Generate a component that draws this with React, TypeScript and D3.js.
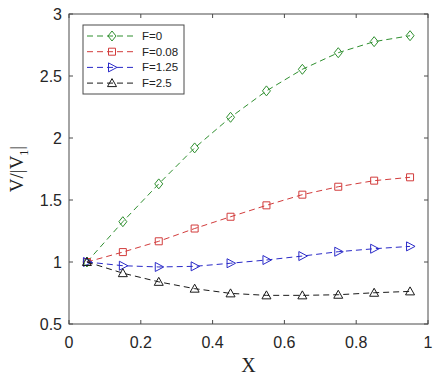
import React from "react";
import * as d3 from "d3";

const xValues = [0.05, 0.15, 0.25, 0.35, 0.45, 0.55, 0.65, 0.75, 0.85, 0.95];
const seriesF0 = [1.0, 1.325, 1.63, 1.92, 2.167, 2.38, 2.554, 2.688, 2.777, 2.825];
const seriesF008 = [1.0, 1.08, 1.167, 1.27, 1.365, 1.457, 1.543, 1.607, 1.656, 1.683];
const seriesF125 = [1.0, 0.97, 0.96, 0.965, 0.99, 1.016, 1.048, 1.083, 1.107, 1.126];
const seriesF25 = [1.0, 0.91, 0.84, 0.785, 0.747, 0.731, 0.731, 0.736, 0.752, 0.763];
const seriesNames = ["F=0", "F=0.08", "F=1.25", "F=2.5"];
const seriesColors = ["#2f8f2f", "#d23c3c", "#2a2ac8", "#1a1a1a"];
const seriesMarkers = ["diamond", "square", "triangleRight", "triangleUp"];
const xTicks = [0, 0.2, 0.4, 0.6, 0.8, 1];
const yTicks = [0.5, 1, 1.5, 2, 2.5, 3];

const L = 69, R = 428, T = 14, B = 324;

function Marker({ type, x, y, color }: { type: string; x: number; y: number; color: string }) {
  const s = 4;
  let d = "";
  if (type === "diamond") d = `M${x},${y - s - 1}L${x + s},${y}L${x},${y + s + 1}L${x - s},${y}Z`;
  else if (type === "square") d = `M${x - 3.5},${y - 3.5}h7v7h-7Z`;
  else if (type === "triangleRight") d = `M${x - 3.5},${y - 4.5}L${x + 5},${y}L${x - 3.5},${y + 4.5}Z`;
  else d = `M${x},${y - 4.5}L${x + 4.5},${y + 3.5}L${x - 4.5},${y + 3.5}Z`;
  return <path d={d} fill="none" stroke={color} strokeWidth={1} />;
}

export default function App() {
  const x = d3.scaleLinear().domain([0, 1]).range([L, R]);
  const y = d3.scaleLinear().domain([0.5, 3]).range([B, T]);
  const all = [seriesF0, seriesF008, seriesF125, seriesF25];
  const line = d3.line<number>().x((_, i) => x(xValues[i])).y((v) => y(v));
  const axisColor = "#4a4a4a";
  const font = "'Liberation Sans', Arial, sans-serif";

  return (
    <svg width={435} height={376} style={{ position: "absolute", left: 0, top: 0, background: "#fff" }}>
      {/* series */}
      {all.map((s, k) => (
        <g key={k}>
          <path d={line(s) || ""} fill="none" stroke={seriesColors[k]} strokeWidth={1} strokeDasharray="6,4" />
          {s.map((v, i) => (
            <Marker key={i} type={seriesMarkers[k]} x={x(xValues[i])} y={y(v)} color={seriesColors[k]} />
          ))}
        </g>
      ))}
      {/* box */}
      <rect x={L} y={T} width={R - L} height={B - T} fill="none" stroke={axisColor} strokeWidth={1} />
      {xTicks.map((t) => (
        <g key={t}>
          <line x1={x(t)} x2={x(t)} y1={B} y2={B - 4} stroke={axisColor} />
          <line x1={x(t)} x2={x(t)} y1={T} y2={T + 4} stroke={axisColor} />
          <text x={x(t)} y={348} textAnchor="middle" fontSize={16} fontFamily={font} fill="#262626">
            {d3.format("~g")(t)}
          </text>
        </g>
      ))}
      {yTicks.map((t) => (
        <g key={t}>
          <line x1={L} x2={L + 4} y1={y(t)} y2={y(t)} stroke={axisColor} />
          <line x1={R} x2={R - 4} y1={y(t)} y2={y(t)} stroke={axisColor} />
          <text x={62} y={y(t) + 6} textAnchor="end" fontSize={16} fontFamily={font} fill="#262626">
            {d3.format("~g")(t)}
          </text>
        </g>
      ))}
      {/* axis labels */}
      <text x={(L + R) / 2} y={372} textAnchor="middle" fontSize={20} fontFamily="'Liberation Serif', 'Times New Roman', serif" fill="#222">
        X
      </text>
      <text
        transform={`translate(23,${(T + B) / 2}) rotate(-90)`}
        textAnchor="middle"
        fontSize={19}
        fontFamily="'Liberation Serif', 'Times New Roman', serif"
        fill="#222"
      >
        V/|V<tspan fontSize={12} dy={5}>1</tspan><tspan dy={-5}>|</tspan>
      </text>
      {/* legend */}
      <rect x={83} y={25} width={101} height={69} fill="#fff" stroke={axisColor} strokeWidth={1} />
      {seriesNames.map((n, k) => {
        const ly = 36 + k * 15.7;
        return (
          <g key={n}>
            <line x1={87} x2={137} y1={ly} y2={ly} stroke={seriesColors[k]} strokeDasharray="6,4" />
            <Marker type={seriesMarkers[k]} x={112} y={ly} color={seriesColors[k]} />
            <text x={142} y={ly + 4} fontSize={11.5} fontFamily={font} fill="#222">
              {n}
            </text>
          </g>
        );
      })}
    </svg>
  );
}
